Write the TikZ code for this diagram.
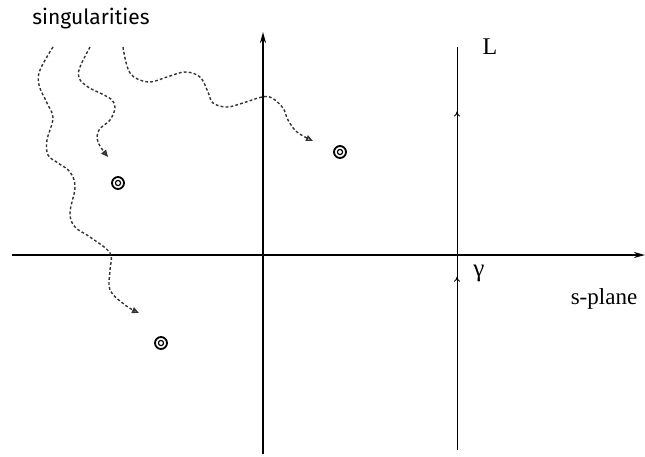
\documentclass[tikz,border=0pt]{standalone}
\usepackage{fontspec}
\setmainfont{Liberation Serif}
\newfontfamily\labelsans{Fira Sans}
\usetikzlibrary{arrows.meta,decorations.markings}
\begin{document}
\begin{tikzpicture}[x=1pt,y=-1pt,
  axis/.style={line width=1.9pt,-{Stealth[length=11pt,width=6pt]}},
  contour/.style={line width=1pt,
    postaction={decorate,decoration={markings,
      mark=at position 0.43 with {\arrow{To[length=5pt,width=6pt]}},
      mark=at position 0.84 with {\arrow{To[length=5pt,width=6pt]}}}}},
  wig/.style={line width=1.4pt,black!80,dash pattern=on 2.8pt off 2.2pt,
    -{Triangle[open,length=7pt,width=6pt]}},
  sing/.style={circle,draw,line width=1.8pt,inner sep=0pt,minimum size=12pt,
    path picture={\draw[line width=1.2pt] (path picture bounding box.center) circle (2.6pt);}},
  lbl/.style={inner sep=0pt}]
\useasboundingbox (0,0) rectangle (645,456);
% axes
\coordinate (xl) at (12,255);
\coordinate (xr) at (645,255);
\coordinate (yb) at (263,454);
\coordinate (yt) at (263,32);
\draw[axis] (xl) -- (xr);
\draw[axis] (yb) -- (yt);
% contour L
\coordinate (lb) at (457,450);
\coordinate (lt) at (457,47);
\draw[contour] (lb) -- (lt);
% labels
\node[lbl] (L) at (490,47) {\fontsize{24}{24}\selectfont L};
\node[lbl] (gam) at (479,273) {\fontsize{25}{25}\selectfont γ};
\node[lbl] (sp) at (604,299) {\fontsize{23}{23}\selectfont s-plane};
\node[lbl] (label) at (91,19) {\labelsans\fontsize{21}{21}\selectfont singularities};
% singularities
\node[sing] (s1) at (118,183) {};
\node[sing] (s2) at (161,343) {};
\node[sing] (s3) at (340,152) {};
% wiggly pointers
\draw[wig] plot[smooth,tension=0.6] coordinates {(53,47) (40,70) (39,85) (47,103) (53,118) (47,140) (48,155) (58,163) (70,172) (75,187) (70,213) (75,227) (90,237) (110,253) (110,270) (110,290) (125,305) (139,313)};
\draw[wig] plot[smooth,tension=0.6] coordinates {(90,47) (80,67) (79,78) (88,87) (102,94) (112,100) (115,108) (110,120) (99,130) (98,142) (108,157)};
\draw[wig] plot[smooth,tension=0.6] coordinates {(123,47) (130,73) (148,82) (167,77) (185,72) (200,77) (208,92) (213,103) (227,107) (243,103) (262,97) (272,98) (283,108) (288,120) (297,132) (313,141)};
\end{tikzpicture}
\end{document}
